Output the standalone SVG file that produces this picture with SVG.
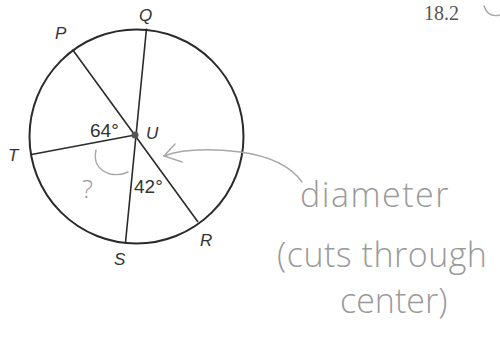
<svg xmlns="http://www.w3.org/2000/svg" width="500" height="337" viewBox="0 0 500 337">
<style>
.ln{stroke:#2a2a2a;stroke-width:1.6;fill:none}
.lbl{font-family:"Liberation Sans",Arial,sans-serif;font-style:italic;font-size:17px;fill:#333}
.ang{font-family:"Liberation Sans",Arial,sans-serif;font-size:19px;fill:#333}
.hw{font-family:"Open Sans","DejaVu Sans",sans-serif;font-weight:300;fill:#9a9a9a}
.hl{stroke:#a8a8a8;stroke-width:1.4;fill:none;stroke-linecap:round}
</style>
<rect width="500" height="337" fill="#fff"/>
<text x="424" y="20" font-family="Liberation Serif,serif" font-size="20" fill="#555">18.2</text>
<path class="hl" d="M484,6 Q488,18 500,15"/>
<g id="circle"><circle cx="136.5" cy="136.5" r="107" stroke="#2a2a2a" stroke-width="2" fill="none"/></g>
<g id="connectors">
<line class="ln" x1="72.5" y1="49.5" x2="198" y2="222"/>
<line class="ln" x1="146.5" y1="28.5" x2="125.5" y2="242.5"/>
<line class="ln" x1="31.5" y1="154.5" x2="135" y2="135"/>
</g>
<g id="U"><circle cx="135" cy="135" r="3.5" fill="#555"/><text class="lbl" x="146" y="139">U</text></g>
<g id="P"><text class="lbl" x="55" y="39">P</text></g>
<g id="Q"><text class="lbl" x="139" y="21">Q</text></g>
<g id="T"><text class="lbl" x="8" y="161">T</text></g>
<g id="S"><text class="lbl" x="114" y="265">S</text></g>
<g id="R"><text class="lbl" x="200" y="246">R</text></g>
<g id="a64"><text class="ang" x="90" y="137">64°</text></g>
<g id="a42"><text class="ang" x="134" y="193">42°</text></g>
<g id="notes">
<path class="hl" d="M96,150 Q92,168 110,174 Q120,176 128,172"/>
<text class="hw" x="82" y="198" font-size="26" fill="#a0a0a0">?</text>
<path class="hl" d="M164,156 Q190,146 240,152 Q285,158 302,182"/>
<path class="hl" d="M175,144 L164,156 L182,162"/>
<text class="hw" x="300" y="207" font-size="34" letter-spacing="1.5">diameter</text>
<text class="hw" x="277" y="267" font-size="34" letter-spacing="0.5">(cuts through</text>
<text class="hw" x="340" y="313" font-size="34">center)</text>
</g>
</svg>
